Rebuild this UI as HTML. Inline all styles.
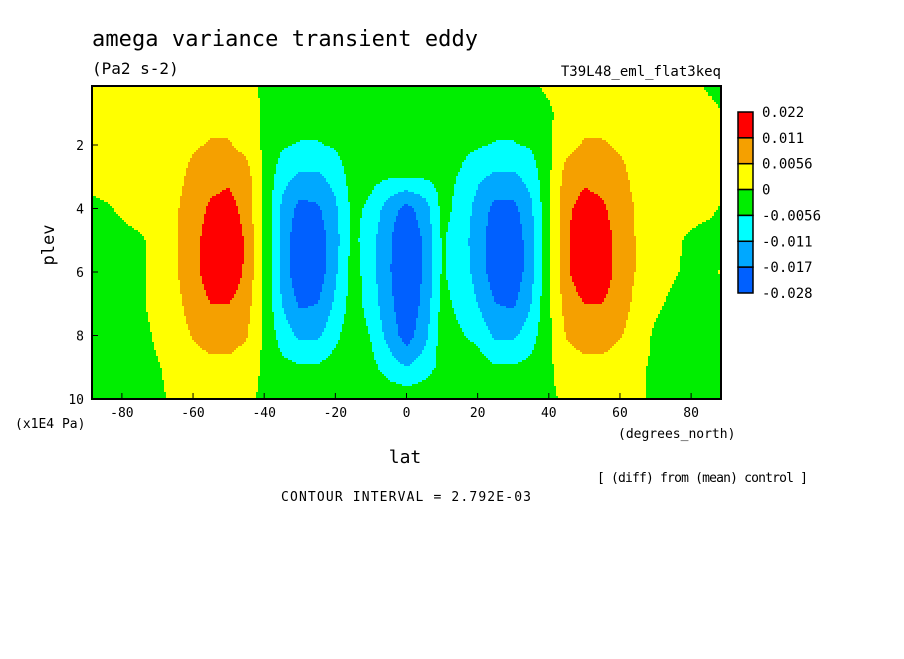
<!DOCTYPE html>
<html><head><meta charset="utf-8"><style>
body{margin:0;background:#fff;}
svg text{font-family:"DejaVu Sans Mono","Liberation Mono",monospace;fill:#000;}
</style></head><body>
<svg id="chart" width="904" height="654" viewBox="0 0 904 654">
<g id="field"></g>
<rect x="92" y="86" width="629" height="313" fill="none" stroke="#000" stroke-width="2"/>
<g id="axes"></g>
<text x="92" y="46" font-size="22" textLength="386">amega variance transient eddy</text>
<text x="92" y="74" font-size="16">(Pa2 s-2)</text>
<text x="721" y="76" font-size="14" text-anchor="end">T39L48_eml_flat3keq</text>
<text transform="translate(54,245) rotate(-90)" font-size="17" text-anchor="middle">plev</text>
<text x="15" y="428" font-size="13">(x1E4 Pa)</text>
<text x="618" y="438" font-size="13">(degrees_north)</text>
<text x="405" y="463" font-size="18" text-anchor="middle">lat</text>
<text x="597" y="482" font-size="13" textLength="211">[ (diff) from (mean) control ]</text>
<text x="281" y="501" font-size="13" textLength="250">CONTOUR INTERVAL = 2.792E-03</text>
<g id="legend"></g>
</svg>
<script>
// data (values in 1e-3 Pa2 s-2)
const lats = [-90,-85,-80,-75,-70,-65,-60,-55,-50,-45,-40,-35,-30,-25,-20,-15,-10,-5,0,5,10,15,20,25,30,35,40,45,50,55,60,65,70,75,80,85,90];
const plevs = [0.14,1,2,3,4,5,6,7,8,9,10];
const grid = [
[-1,2,3,3,3,3,3,3,3,2,-1,-1,-1,-1,-1,-1,-1,-1,-1,-1,-1,-1,-1,-1,-1,-1,1,3,3,3,3,3,3,3,2,-1,-2],
[-1,3,3,3,3,3,4,4,4,3,-1,-2,-3,-3,-2,-2,-2,-2,-2,-2,-2,-2,-2,-3,-3,-2,-1,3,4,4,4,3,3,3,3,2,-1],
[2,3,3,3,3,4,5,6,6,4,-1,-5,-6,-6,-5,-3,-3,-3,-3,-3,-3,-4,-5,-6,-6,-5,-1,4,6,6,5,4,3,3,3,3,-1],
[2,3,3,3,3,4,7,9,10,8,-1,-9,-12,-12,-9,-3,-4,-5,-5,-5,-4,-6,-10,-12,-12,-9,-1,8,10,9,7,4,3,3,3,3,2],
[-2,-1,1,3,3,5,8,12,13,9,-1,-12,-19,-18,-12,-4,-7,-14,-19,-14,-4,-7,-13,-19,-19,-12,-1,10,13,12,8,5,3,3,2,1,-1],
[-3,-3,-2,-1,2,5,9,14,16,10,-1,-13,-22,-21,-13,-4,-9,-16,-23,-16,-5,-8,-14,-21,-22,-13,-1,10,16,14,9,5,2,1,-1,-2,-2],
[-3,-3,-3,-1,2,5,9,14,15,10,-1,-13,-22,-21,-12,-3,-9,-16,-24,-16,-5,-8,-13,-21,-22,-13,-1,10,15,14,9,5,2,0.5,-1,-1,1],
[-3,-3,-3,-1,2,4,8,11,11,8,-1,-11,-18,-17,-10,-3,-8,-15,-22,-15,-4,-7,-11,-17,-18,-11,-1,8,11,11,8,4,1,-1,-2,-2,-2],
[-3,-3,-3,-2,1,3,6,8,8,6,-1,-8,-12,-12,-7,-2,-6,-13,-20,-13,-3,-5,-7,-12,-12,-8,-1,6,8,8,6,3,-1,-2,-3,-3,-3],
[-3,-3,-3,-2,-0.5,2,3,4,4,3,-1,-4,-5,-5,-3,-2,-4,-8,-11,-8,-4,-2,-3,-5,-5,-4,-1,3,4,4,3,1,-1,-2,-3,-3,-3],
[-3,-3,-3,-2,-1,1,2,2,2,1,-1,-2,-2,-2,-2,-2,-2,-2,-2,-2,-2,-2,-2,-2,-2,-2,-1,1,2,2,2,1,-1,-2,-3,-3,-3]
];
const levels = [22,11,5.6,0,-5.6,-11,-17,-28];
const levelLabels = ["0.022","0.011","0.0056","0","-0.0056","-0.011","-0.017","-0.028"];
const colors = ["#ff0000","#f5a000","#ffff00","#00ee00","#00ffff","#00a8ff","#0060ff"];
const xTicks = [-80,-60,-40,-20,0,20,40,60,80];
const yTicks = [2,4,6,8,10];

const NS="http://www.w3.org/2000/svg";
const X0=92,X1=721,Y0=86,Y1=399, LAT0=-88.4, LAT1=88.4, P0=0.14, P1=10;
const xs = v => X0+(v-LAT0)/(LAT1-LAT0)*(X1-X0);
const ys = v => 145+(v-2)*(399-145)/8;
function val(lat,p){
  let i=0; while(i<lats.length-2 && lat>lats[i+1]) i++;
  let j=0; while(j<plevs.length-2 && p>plevs[j+1]) j++;
  const tx=Math.min(1,Math.max(0,(lat-lats[i])/(lats[i+1]-lats[i])));
  const ty=Math.min(1,Math.max(0,(p-plevs[j])/(plevs[j+1]-plevs[j])));
  const a=grid[j][i],b=grid[j][i+1],c=grid[j+1][i],d=grid[j+1][i+1];
  return a*(1-tx)*(1-ty)+b*tx*(1-ty)+c*(1-tx)*ty+d*tx*ty;
}
function colorIdx(v){ for(let k=1;k<levels.length-1;k++){ if(v>=levels[k]) return k-1; } return levels.length-2; }
const field=document.getElementById('field');
const S=2;
function emit(x0,x1,py,c){
  const r=document.createElementNS(NS,'rect');
  r.setAttribute('x',x0);r.setAttribute('y',py);
  r.setAttribute('width',x1-x0);r.setAttribute('height',S);
  r.setAttribute('fill',colors[c]);
  
  
  field.appendChild(r);
}
for(let py=Y0;py<Y1;py+=S){
  const p=P0+((py+S/2)-ys(P0))/(ys(P1)-ys(P0))*(P1-P0);
  let runStart=X0, runC=-1;
  for(let px=X0;px<X1;px+=S){
    const lat=LAT0+((px+S/2)-X0)/(X1-X0)*(LAT1-LAT0);
    const c=colorIdx(val(lat,p));
    if(c!==runC){
      if(runC>=0) emit(runStart,px,py,runC);
      runStart=px; runC=c;
    }
  }
  if(runC>=0) emit(runStart,X1,py,runC);
}
const axes=document.getElementById('axes');
xTicks.forEach(t=>{
  const l=document.createElementNS(NS,'line');
  l.setAttribute('x1',xs(t));l.setAttribute('x2',xs(t));l.setAttribute('y1',Y1);l.setAttribute('y2',Y1-6);l.setAttribute('stroke','#000');
  
  
  axes.appendChild(l);
  const tx=document.createElementNS(NS,'text');
  tx.setAttribute('x',xs(t));tx.setAttribute('y',417);tx.setAttribute('font-size','13');tx.setAttribute('text-anchor','middle');
  tx.textContent=t;
  
  
  axes.appendChild(tx);
});
yTicks.forEach(t=>{
  const l=document.createElementNS(NS,'line');
  l.setAttribute('x1',X0);l.setAttribute('x2',X0+6);l.setAttribute('y1',ys(t));l.setAttribute('y2',ys(t));l.setAttribute('stroke','#000');
  
  
  axes.appendChild(l);
  const tx=document.createElementNS(NS,'text');
  tx.setAttribute('x',84);tx.setAttribute('y',ys(t)+5);tx.setAttribute('font-size','13');tx.setAttribute('text-anchor','end');
  tx.textContent=t;
  
  
  axes.appendChild(tx);
});
const leg=document.getElementById('legend');
const LY0=112,LY1=293,LH=(LY1-LY0)/colors.length;
colors.forEach((c,k)=>{
  const r=document.createElementNS(NS,'rect');
  r.setAttribute('x',738);r.setAttribute('y',LY0+k*LH);r.setAttribute('width',15);r.setAttribute('height',LH);
  r.setAttribute('fill',c);r.setAttribute('stroke','#000');r.setAttribute('stroke-width','1.5');
  
  
  leg.appendChild(r);
});
levelLabels.forEach((s,k)=>{
  const tx=document.createElementNS(NS,'text');
  tx.setAttribute('x',762);tx.setAttribute('y',LY0+k*LH+5);tx.setAttribute('font-size','14');
  tx.textContent=s;
  
  
  leg.appendChild(tx);
});
</script>
</body></html>
